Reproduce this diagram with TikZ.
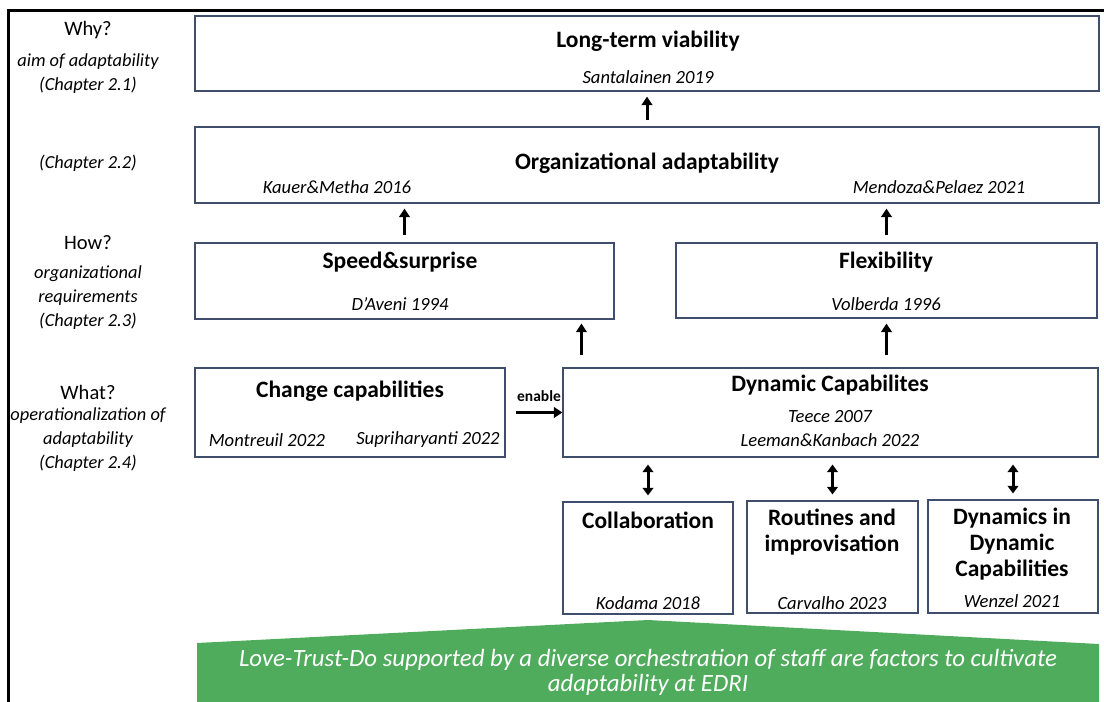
\documentclass[tikz,border=0pt]{standalone}
\usepackage{fontspec}
\setmainfont{Carlito}
\usetikzlibrary{arrows.meta}
\definecolor{boxline}{RGB}{64,78,110}
\definecolor{leafgreen}{RGB}{79,172,92}
\begin{document}
\begin{tikzpicture}[x=1pt,y=-1pt,
  box/.style={draw=boxline,line width=1.1pt,inner sep=0pt,rectangle},
  head/.style={font=\fontsize{23.5}{26}\selectfont\bfseries,align=center,inner sep=0pt},
  cite/.style={font=\fontsize{18.6}{20}\selectfont\itshape,inner sep=0pt},
  side/.style={font=\fontsize{18.4}{24}\selectfont\itshape,align=center,inner sep=0pt},
  ask/.style={font=\fontsize{20.5}{22}\selectfont,inner sep=0pt},
  up/.style={line width=3pt,-{Triangle[length=8.5pt,width=10.5pt]}},
  both/.style={line width=3pt,{Triangle[length=7.5pt,width=10.5pt]}-{Triangle[length=7.5pt,width=10.5pt]}},
]
\useasboundingbox (0,0) rectangle (1104,702);

% outer frame (top and left edges only)
\draw[line width=3pt,line join=miter] (8,702) -- (8,10) -- (1104,10);

% row labels on the left
\node[ask]  (why)   at (88,30)    {Why?};
\node[side] (whyt)  at (88,73.5)  {aim of adaptability\\(Chapter 2.1)};
\node[side] (ch22)  at (88,163)   {(Chapter 2.2)};
\node[ask]  (how)   at (88,243)   {How?};
\node[side] (howt)  at (88,298)   {organizational\\requirements\\(Chapter 2.3)};
\node[ask]  (what)  at (88,392)   {What?};
\node[side] (whatt) at (88,440)   {operationalization of\\adaptability\\(Chapter 2.4)};

% boxes
\node[box,minimum width=904pt,minimum height=75pt]  (long)   at (647,53.5)   {};
\node[box,minimum width=904pt,minimum height=76pt]  (org)    at (647,165)    {};
\node[box,minimum width=419pt,minimum height=76pt]  (speed)  at (404.5,281)  {};
\node[box,minimum width=421pt,minimum height=75pt]  (flex)   at (886.5,280.5){};
\node[box,minimum width=310pt,minimum height=89pt]  (change) at (350,412.5)  {};
\node[box,minimum width=535pt,minimum height=89pt]  (dyn)    at (830.5,412.5){};
\node[box,minimum width=170pt,minimum height=112pt] (coll)   at (648,558)    {};
\node[box,minimum width=171pt,minimum height=112pt] (rout)   at (832.5,557)  {};
\node[box,minimum width=170pt,minimum height=113pt] (dynin)  at (1013,556.5) {};

% box texts
\node[head] (longt) at (648,41)  {Long-term viability};
\node[cite] (longc) at (648,77)  {Santalainen 2019};
\node[head] (orgt)  at (647,163) {Organizational adaptability};
\node[cite] (orgc1) at (337,187) {Kauer\&Metha 2016};
\node[cite] (orgc2) at (939,187) {Mendoza\&Pelaez 2021};
\node[head] (spt)   at (400,262) {Speed\&surprise};
\node[cite] (spc)   at (400,304) {D’Aveni 1994};
\node[head] (flt)   at (886,262) {Flexibility};
\node[cite] (flc)   at (886,304) {Volberda 1996};
\node[head] (cht)   at (350,391) {Change capabilities};
\node[cite] (chc1)  at (267,440) {Montreuil 2022};
\node[cite] (chc2)  at (428,440) {Supriharyanti 2022};
\node[head] (dyt)   at (830,385) {Dynamic Capabilites};
\node[cite] (dyc1)  at (830,417) {Teece 2007};
\node[cite] (dyc2)  at (830,440) {Leeman\&Kanbach 2022};
\node[head] (cot)   at (648,520) {Collaboration};
\node[cite] (coc)   at (648,603) {Kodama 2018};
\node[head] (rot)   at (832,532) {Routines and\\improvisation};
\node[cite] (roc)   at (832,603) {Carvalho 2023};
\node[head] (dit)   at (1012,544){Dynamics in\\Dynamic\\Capabilities};
\node[cite] (dic)   at (1012,601){Wenzel 2021};

% upward arrows
\draw[up,shorten <=6pt,shorten >=5pt] (org.north) -- (long.south);
\draw[up,shorten <=7pt,shorten >=5pt] (speed.north) -- (speed.north |- org.south);
\draw[up,shorten <=7pt,shorten >=5pt] (flex.north) -- (flex.north |- org.south);
\draw[up,shorten <=12pt,shorten >=4pt] ([xshift=19pt]dyn.north west) -- ([xshift=19pt]dyn.north west |- speed.south);
\draw[up,shorten <=12pt,shorten >=5pt] (flex.south |- dyn.north) -- (flex.south);

% enable arrow
\draw[up,shorten <=10pt] (change.east) -- (dyn.west |- change.east)
  node[midway,above=9pt,font=\fontsize{15.5}{16}\selectfont\bfseries,inner sep=0pt,xshift=5pt] (en) {enable};

% two-way arrows
\draw[both,shorten <=7pt,shorten >=6pt] (dyn.south -| coll.north) -- (coll.north);
\draw[both,shorten <=7pt,shorten >=6pt] (dyn.south -| rout.north) -- (rout.north);
\draw[both,shorten <=7pt,shorten >=6pt] (dyn.south -| dynin.north) -- (dynin.north);

% green base
\fill[leafgreen] (197,702) -- (197,643) -- (648,620) -- (1099,644) -- (1099,702) -- cycle;
\node[font=\fontsize{24.8}{25}\selectfont\itshape,text=white,align=center,inner sep=0pt] (base) at (648,672.5)
  {Love-Trust-Do supported by a diverse orchestration of staff are factors to cultivate\\adaptability at EDRI};
\end{tikzpicture}
\end{document}
